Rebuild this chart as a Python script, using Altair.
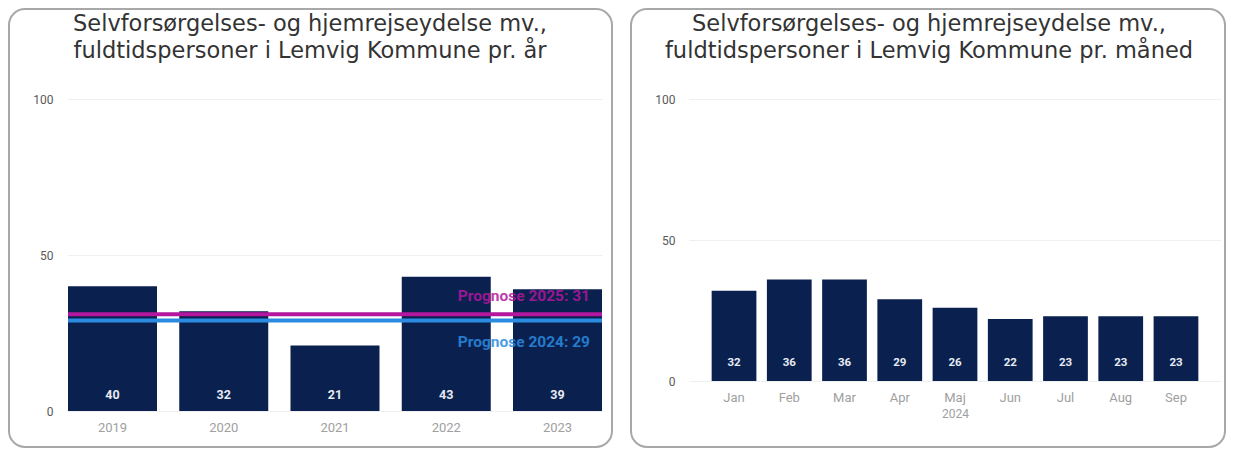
import altair as alt
import pandas as pd

# ---- data ----
years = ["2019", "2020", "2021", "2022", "2023"]
year_values = [40, 32, 21, 43, 39]

months = ["Jan", "Feb", "Mar", "Apr", "Maj", "Jun", "Jul", "Aug", "Sep"]
month_values = [32, 36, 36, 29, 26, 22, 23, 23, 23]
month_year = "2024"

forecast_labels = ["Prognose 2025: 31", "Prognose 2024: 29"]
forecast_values = [31, 29]
forecast_colors = ["#B4169E", "#2B8BE0"]

title_left = "Selvforsørgelses- og hjemrejseydelse mv.,\nfuldtidspersoner i Lemvig Kommune pr. år"
title_right = "Selvforsørgelses- og hjemrejseydelse mv.,\nfuldtidspersoner i Lemvig Kommune pr. måned"
y_ticks = [0, 50, 100]

# ---- style ----
FONT = "Roboto"
TFONT = "DejaVu Sans"
BAR = "#0A2150"
FRAME = "#A8A8A8"
GRID = "#EFEFEF"

df_y = pd.DataFrame({"year": years, "value": year_values})
df_m = pd.DataFrame({"month": months, "value": month_values})
df_f = pd.DataFrame({"label": forecast_labels, "value": forecast_values, "color": forecast_colors})
one = pd.DataFrame({"k": [0]})


def y_axis(pad):
    return alt.Axis(values=y_ticks, grid=True, gridColor=GRID, domain=False, ticks=False,
                    labelPadding=pad, labelColor="#595959", labelFontSize=12, title=None)


def frame(x1, x2, y1, y2):
    return alt.Chart(one).mark_rect(filled=False, stroke=FRAME, strokeWidth=2, cornerRadius=16).encode(
        x=alt.value(x1), x2=alt.value(x2), y=alt.value(y1), y2=alt.value(y2))


def title(text, x, y):
    return alt.Chart(one).mark_text(text=text, lineBreak="\n", fontSize=22.5, lineHeight=27,
                                    align="center", baseline="top", color="#333333",
                                    font=TFONT).encode(x=alt.value(x), y=alt.value(y))


# ---- left panel ----
LW, LH = 534, 312
xl = alt.X("year:N", sort=years,
           scale=alt.Scale(paddingInner=0.2, paddingOuter=0),
           axis=alt.Axis(title=None, labelAngle=0, domain=False, ticks=False, labelPadding=10,
                         labelColor="#A0A0A0", labelFontSize=13, grid=False))
yl = alt.Y("value:Q", scale=alt.Scale(domain=[0, 100]), axis=y_axis(15))

bars_l = alt.Chart(df_y).mark_bar(color=BAR).encode(x=xl, y=yl)
vals_l = alt.Chart(df_y).mark_text(color="#E6EAF2", fontWeight="bold", fontSize=12.5, dy=-16,
                                   font=FONT).encode(x=xl, y=alt.datum(0), text="value:Q")
rules = alt.Chart(df_f).mark_rule(strokeWidth=4).encode(
    y="value:Q", color=alt.Color("color:N", scale=None))
f25 = alt.Chart(df_f.iloc[[0]]).mark_text(align="right", fontWeight="bold", fontSize=15.5, dy=-18,
                                          opacity=0.85, font=FONT).encode(
    x=alt.value(LW - 12), y="value:Q", text="label:N", color=alt.Color("color:N", scale=None))
f24 = alt.Chart(df_f.iloc[[1]]).mark_text(align="right", fontWeight="bold", fontSize=15.5, dy=21,
                                          opacity=0.85, font=FONT).encode(
    x=alt.value(LW - 12), y="value:Q", text="label:N", color=alt.Color("color:N", scale=None))

left = alt.layer(
    frame(-59, 544, -90, 348),
    title(title_left, 242, -86),
    bars_l, vals_l, rules, f25, f24,
).properties(width=LW, height=LH)

# ---- right panel ----
RW, RH = 532, 282
xr = alt.X("month:N", sort=months,
           scale=alt.Scale(paddingInner=0.19, paddingOuter=0.41),
           axis=alt.Axis(title=month_year, titleFontWeight="normal", titleColor="#A0A0A0",
                         titleFontSize=12, titlePadding=4, labelAngle=0, domain=False,
                         ticks=False, labelPadding=10, labelColor="#A0A0A0", labelFontSize=13,
                         grid=False))
yr = alt.Y("value:Q", scale=alt.Scale(domain=[0, 100]), axis=y_axis(14))

bars_r = alt.Chart(df_m).mark_bar(color=BAR).encode(x=xr, y=yr)
vals_r = alt.Chart(df_m).mark_text(color="#E6EAF2", fontWeight="bold", fontSize=11.5, dy=-18,
                                   font=FONT).encode(x=xr, y=alt.datum(0), text="value:Q")

right = alt.layer(
    frame(-58, 536, -90, 348),
    title(title_right, 240, -86),
    bars_r, vals_r,
).properties(width=RW, height=RH)

chart = alt.hconcat(left, right, spacing=17).properties(padding=0).configure(
    font=FONT, background="white").configure_view(stroke="transparent", strokeWidth=0)

chart.save("out.html", embed_options={"renderer": "svg", "actions": False})
